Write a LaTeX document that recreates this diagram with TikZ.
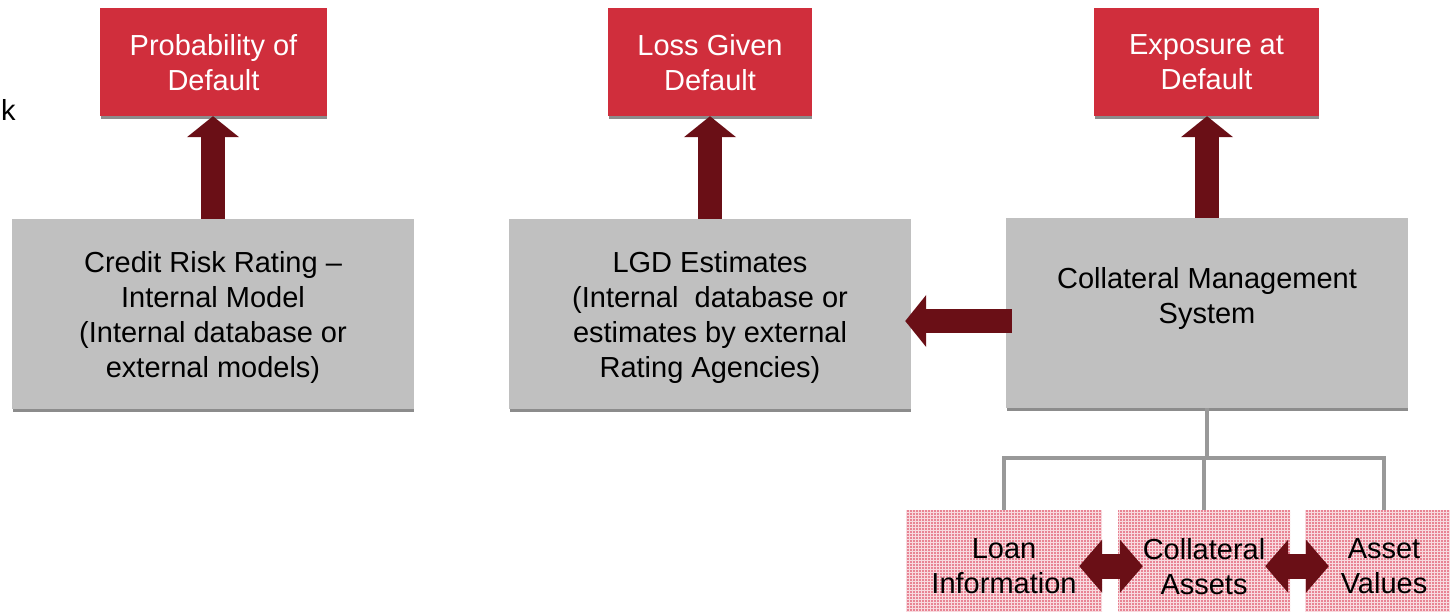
\documentclass[tikz,border=0pt]{standalone}
\usepackage{fontspec}
\setmainfont{Liberation Sans}
\usetikzlibrary{arrows.meta,calc,patterns}

\definecolor{boxred}{RGB}{208,46,60}
\definecolor{arrowred}{RGB}{106,15,22}
\definecolor{boxgray}{RGB}{192,192,192}
\definecolor{linegray}{RGB}{153,153,153}
\definecolor{stripegray}{RGB}{140,140,140}
\definecolor{pinkbase}{RGB}{232,132,148}

\tikzset{
  txt/.style={font=\fontsize{29}{35}\selectfont, align=center, inner sep=0pt, text depth=0pt},
  redbox/.style={txt, fill=boxred, text=white, minimum height=108pt},
  graybox/.style={txt, fill=boxgray, minimum width=402pt, minimum height=190pt},
  pinkbox/.style={txt, fill=pinkbase,
    postaction={pattern=grid, pattern color=white!70!pinkbase},
    minimum height=112pt, anchor=north},
  stripe/.style={fill=stripegray},
  bigarrow/.style={draw=arrowred, line width=24pt, -{Triangle[length=21pt, width=51pt]}},
  dblarrow/.style={draw=arrowred, line width=25pt,
    {Triangle[length=23pt, width=52pt]}-{Triangle[length=23pt, width=52pt]}},
  tree/.style={draw=linegray, line width=4pt},
}

\begin{document}
\begin{tikzpicture}[x=1pt,y=-1pt]
\clip (0,0) rectangle (1450,611);
\fill[white] (0,0) rectangle (1450,611);

% stray letter at the left margin
\node[txt, anchor=base west] (k) at (1,120) {k};

% risk parameters
\node[redbox, minimum width=227pt] (pd)  at (213.5,62) {Probability of\\Default};
\node[redbox, minimum width=204pt] (lgd) at (710,62)   {Loss Given\\Default};
\node[redbox, minimum width=225pt] (ead) at (1206.5,62) {Exposure at\\Default};

% sources
\node[graybox] (crr)  at (213,314) {Credit Risk Rating --\\Internal Model\\(Internal database or\\external models)};
\node[graybox] (lgde) at (710,314) {LGD Estimates\\(Internal\ \ database or\\estimates by external\\Rating Agencies)};
\node[graybox, text depth=35pt] (cms) at (1207,313) {Collateral Management\\System};

% shadow stripes under the boxes
\foreach \b in {pd,lgd,ead,crr,lgde,cms}
  \fill[stripe] ($(\b.south west)+(1,0)$) rectangle ($(\b.south east)+(0,3)$);

% collateral data
\node[pinkbox, minimum width=196pt] (loan)  at (1004,510) {Loan\\Information};
\node[pinkbox, minimum width=172pt] (coll)  at (1204,510) {Collateral\\Assets};
\node[pinkbox, minimum width=158pt] (asset) at (1384,510) {Asset\\Values};

% tree from the collateral system to its data
\draw[tree] (cms.south) -- ++(0,50) coordinate (hub);
\draw[tree] (loan.north) -- (loan.north |- hub) -- (asset.north |- hub) -- (asset.north);
\draw[tree] (coll.north) -- (coll.north |- hub);

% flows into the parameters
\draw[bigarrow] (crr.north)  -- (crr.north |- pd.south);
\draw[bigarrow] (lgde.north) -- (lgde.north |- lgd.south);
\draw[bigarrow] (cms.north)  -- (cms.north |- ead.south);
\coordinate (la) at ($(cms.west)+(6,8)$);
\draw[bigarrow] (la) -- ($(lgde.east |- la)+(-6,0)$);

% exchanges between the data sets
\draw[dblarrow] ($(loan.east)+(-23,0)$) -- ($(coll.west)+(25,0)$);
\draw[dblarrow] ($(coll.east)+(-25,0)$) -- ($(asset.west)+(24,0)$);
\end{tikzpicture}
\end{document}
